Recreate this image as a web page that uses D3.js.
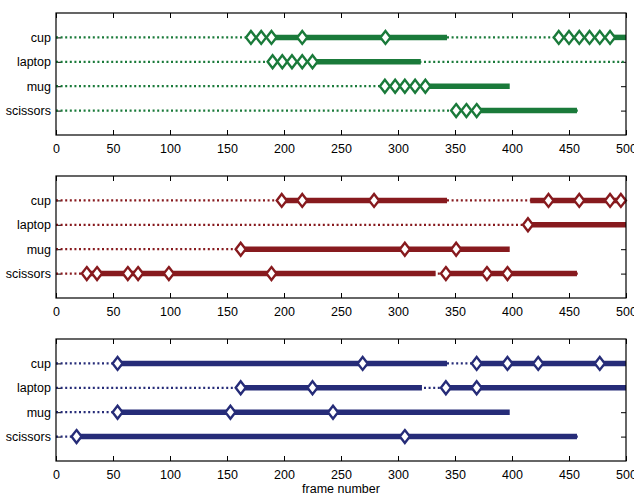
<!DOCTYPE html>
<html>
<head>
<meta charset="utf-8">
<script src="https://cdn.jsdelivr.net/npm/d3@7"></script>
<style>
  body { margin: 0; background: #fff; }
  svg { display: block; font-family: "Liberation Sans", Arial, sans-serif; }
</style>
</head>
<body>
<svg id="chart" width="634" height="496"></svg>
<script>
// ---- data ----
const categories = ["cup", "laptop", "mug", "scissors"];
const xTicks = [0, 50, 100, 150, 200, 250, 300, 350, 400, 450, 500];
const rowEnds = [500, 500, 399, 458];

const greenSolid = [[[189, 343], [486, 500]], [[225, 320]], [[324, 398]], [[369, 457]]];
const greenMarks = [[171, 180, 189, 216, 289, 441, 450, 459, 468, 477, 486],
                    [190, 198.5, 207, 216, 225],
                    [288.5, 297.5, 306, 315, 324],
                    [351, 360, 369]];

const redSolid = [[[198, 343], [416, 500]], [[414, 500]], [[162, 398]], [[27, 333], [342, 457]]];
const redMarks = [[198, 216, 279, 432, 459, 486, 495.5],
                  [414],
                  [162, 306, 351],
                  [27, 36, 63, 72, 99, 189, 342, 378, 396]];

const blueSolid = [[[54, 343], [369, 500]], [[162, 321], [342, 500]], [[54, 398]], [[18, 457]]];
const blueMarks = [[54, 269, 369, 396, 423, 477],
                   [162, 225, 342, 369],
                   [54, 153, 243],
                   [18, 306]];

const panelColors = ["#1a7a3a", "#871a1e", "#262c78"];
const xLabel = "frame number";

// ---- drawing ----
const panels = [
  { solid: greenSolid, marks: greenMarks, color: panelColors[0] },
  { solid: redSolid, marks: redMarks, color: panelColors[1] },
  { solid: blueSolid, marks: blueMarks, color: panelColors[2] }
];

const svg = d3.select("#chart");
const left = 56, right = 626, panelH = 122;
const tops = [13, 176, 339];

const x = d3.scaleLinear().domain([0, 500]).range([left, right]);

panels.forEach((p, pi) => {
  const top = tops[pi];
  const y = d3.scaleLinear().domain([0, 5]).range([top, top + panelH]);
  const g = svg.append("g");

  // ticks (inward) top & bottom
  g.append("g")
    .attr("transform", `translate(0,${top + panelH})`)
    .call(d3.axisBottom(x).tickValues(xTicks).tickSize(-5).tickPadding(9).tickFormat(d3.format("d")))
    .call(a => a.select(".domain").remove())
    .call(a => a.selectAll("text").attr("font-size", 12.5).attr("fill", "#000").attr("font-family", "Liberation Sans, Arial, sans-serif"))
    .call(a => a.selectAll("line").attr("stroke", "#000"));
  g.append("g")
    .attr("transform", `translate(0,${top})`)
    .call(d3.axisTop(x).tickValues(xTicks).tickSize(-5).tickFormat(""))
    .call(a => a.select(".domain").remove())
    .call(a => a.selectAll("line").attr("stroke", "#000"));

  // y axis labels on left, inward ticks on both sides
  g.append("g")
    .attr("transform", `translate(${left},0)`)
    .call(d3.axisLeft(y).tickValues([1, 2, 3, 4]).tickSize(-5).tickPadding(5).tickFormat((d) => categories[d - 1]))
    .call(a => a.select(".domain").remove())
    .call(a => a.selectAll("text").attr("font-size", 12.5).attr("fill", "#000").attr("font-family", "Liberation Sans, Arial, sans-serif"))
    .call(a => a.selectAll("line").attr("stroke", "#000"));
  g.append("g")
    .attr("transform", `translate(${right},0)`)
    .call(d3.axisRight(y).tickValues([1, 2, 3, 4]).tickSize(-5).tickFormat(""))
    .call(a => a.select(".domain").remove())
    .call(a => a.selectAll("line").attr("stroke", "#000"));

  categories.forEach((c, ri) => {
    const yy = y(ri + 1);
    // dotted base line
    g.append("line")
      .attr("x1", x(0)).attr("x2", x(rowEnds[ri]))
      .attr("y1", yy).attr("y2", yy)
      .attr("stroke", p.color).attr("stroke-width", 2.2)
      .attr("stroke-dasharray", "2,2.6");
    // solid segments
    g.selectAll(null).data(p.solid[ri]).enter().append("line")
      .attr("x1", d => x(d[0])).attr("x2", d => x(d[1]))
      .attr("y1", yy).attr("y2", yy)
      .attr("stroke", p.color).attr("stroke-width", 5.5);
    // diamonds
    const hw = 5, hh = 6.5;
    g.selectAll(null).data(p.marks[ri]).enter().append("path")
      .attr("d", d => {
        const cx = x(d);
        return `M${cx},${yy - hh}L${cx + hw},${yy}L${cx},${yy + hh}L${cx - hw},${yy}Z`;
      })
      .attr("fill", "#fff").attr("stroke", p.color).attr("stroke-width", 2.4)
      .attr("stroke-linejoin", "miter");
  });

  // frame
  g.append("rect")
    .attr("x", left).attr("y", top)
    .attr("width", right - left).attr("height", panelH)
    .attr("fill", "none").attr("stroke", "#000").attr("stroke-width", 1.2);
});

svg.append("text")
  .attr("x", (left + right) / 2).attr("y", 493)
  .attr("text-anchor", "middle")
  .attr("font-size", 12.5)
  .text(xLabel);
</script>
</body>
</html>
